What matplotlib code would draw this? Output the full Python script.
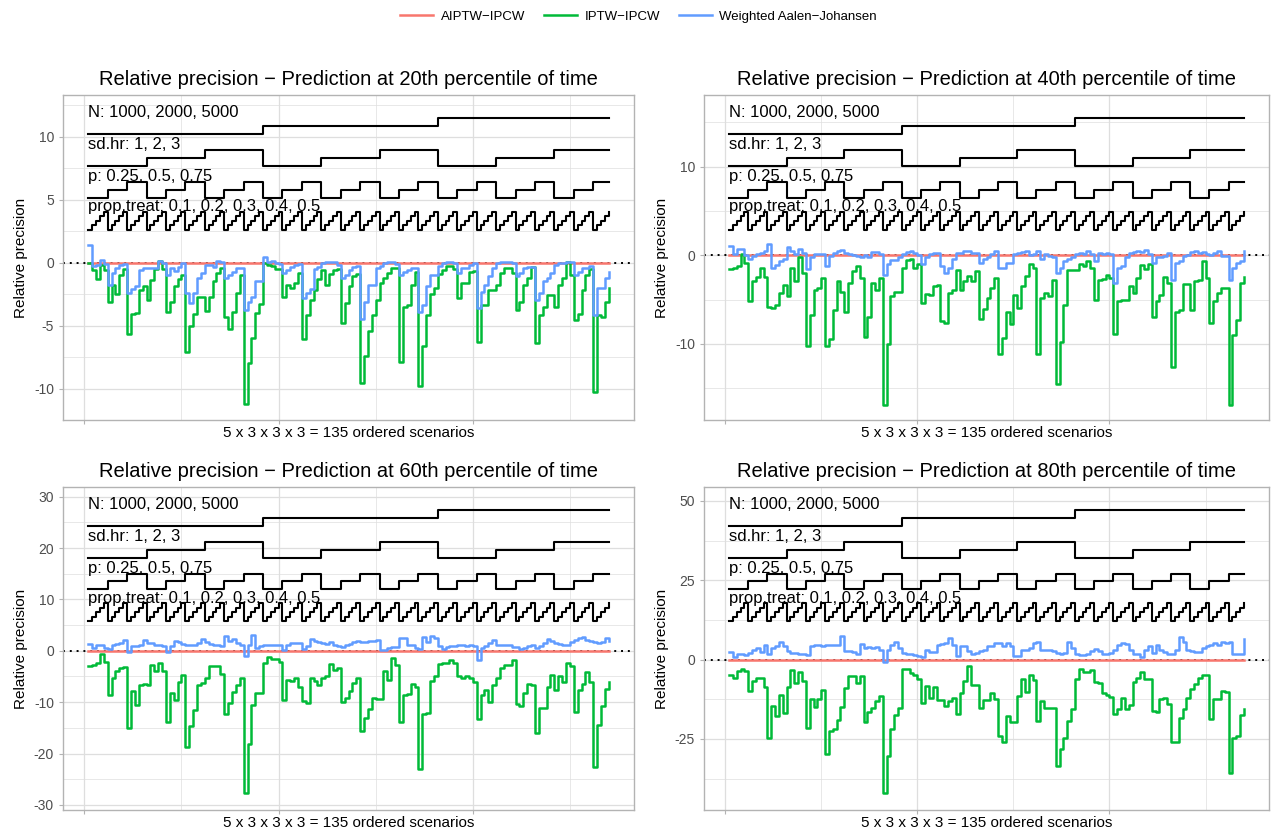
import itertools
import numpy as np
import matplotlib
matplotlib.use("Agg")
import matplotlib.pyplot as plt
from matplotlib.lines import Line2D

plt.rcParams['font.family'] = ['Liberation Sans', 'DejaVu Sans']
plt.rcParams['axes.unicode_minus'] = False

# ---------------------------------------------------------------- design
n_levels = [1000, 2000, 5000]
sdhr_levels = [1, 2, 3]
p_levels = [0.25, 0.5, 0.75]
prop_treat_levels = [0.1, 0.2, 0.3, 0.4, 0.5]

design_names = ["N", "sd.hr", "p", "prop.treat"]
design_levels = [n_levels, sdhr_levels, p_levels, prop_treat_levels]

method_names = ["AIPTW\u2212IPCW", "IPTW\u2212IPCW", "Weighted Aalen\u2212Johansen"]
method_colors = ["#F8766D", "#00BA38", "#619CFF"]

percentiles = ["20th", "40th", "60th", "80th"]

# ---------------------------------------------------------------- results
# relative precision of each method vs. AIPTW-IPCW, 135 ordered scenarios
aiptw_rel = [0.0] * 135

iptw_20 = [
    0.0, -0.6, -1.3, -0.2, -0.6,   -3.1, -1.8, -2.5, -1.0, -0.5,
    -5.7, -4.05, -4.0, -2.2, -1.9,   -3.0, -1.4, -0.5, 0.1, -0.5,
    -3.9, -3.1, -1.9, -1.3, -1.0,   -7.1, -5.0, -4.05, -2.7, -2.7,
    -3.85, -2.7, -1.5, -0.85, -0.45,   -4.3, -5.3, -3.9, -2.45, -0.95,
    -11.2, -8.0, -6.0, -4.0, -3.3,   0.0, -0.2, -0.3, -0.5, -0.5,
    -2.7, -1.8, -2.0, -1.6, -0.8,   -6.1, -4.2, -3.0, -2.2, -1.3,
    -0.6, -1.8, -0.9, -0.6, -0.5,   -4.8, -3.2, -1.9, -1.1, -0.9,
    -9.6, -7.4, -5.4, -4.2, -3.0,   -1.65, -1.25, -0.85, -0.45, -0.45,
    -7.9, -3.5, -3.4, -1.8, -0.75,   -9.8, -6.6, -4.2, -2.5, -2.0,
    -0.9, -0.6, -0.25, -0.25, -0.5,   -2.85, -1.65, -1.6, -0.75, -0.7,
    -6.3, -3.4, -3.35, -2.2, -2.15,   -1.8, -0.85, -0.45, -0.45, -0.85,
    -3.8, -3.1, -1.8, -1.25, -0.35,   -6.4, -4.2, -3.5, -2.6, -2.55,
    -3.5, -1.8, -1.25, 0.05, -1.0,   -4.6, -4.05, -2.2, -1.0, -0.5,
    -10.3, -4.2, -4.3, -3.1, -2.05,
]
waj_20 = [
    1.4, -0.25, -0.2, 0.2, -0.1,   -1.75, -0.85, -0.45, -0.2, -0.1,
    -2.45, -2.1, -1.9, -0.6, -0.45,   -0.45, -0.4, -0.4, 0.1, -0.05,
    -1.0, -0.45, -0.7, -0.35, -0.05,   -2.4, -3.2, -2.45, -1.2, -0.85,
    -0.2, -0.2, -0.35, 0.1, 0.05,   -1.25, -1.0, -0.75, -0.4, -0.4,
    -3.8, -3.1, -2.7, -1.5, -1.5,   0.45, 0.05, 0.15, -0.05, -0.15,
    -0.85, -0.6, -0.35, -0.2, -0.15,   -2.85, -2.4, -2.1, -0.5, -0.35,
    -0.05, 0.05, 0.05, 0.05, -0.2,   -1.2, -1.0, -0.6, -0.35, -0.25,
    -4.45, -3.1, -1.8, -1.75, -0.45,   -0.25, -0.05, 0.05, 0.05, -0.15,
    -0.95, -0.75, -0.6, -0.45, -0.45,   -3.9, -3.4, -1.9, -1.0, -0.95,
    -0.25, -0.05, 0.05, 0.05, -0.05,   -0.85, -0.45, -0.45, -0.2, -0.05,
    -3.6, -2.3, -1.8, -1.1, -0.45,   -0.05, 0.05, 0.05, 0.05, -0.05,
    -1.1, -0.85, -0.45, -0.35, -0.35,   -2.95, -2.45, -1.5, -1.25, -0.85,
    -0.2, 0.0, -0.05, 0.05, 0.05,   -1.0, -0.75, -0.45, -0.45, -0.3,
    -4.2, -2.05, -2.05, -1.25, -0.75,
]

iptw_40 = [
    -1.6, -1.4, -1.2, 0.1, -0.9,   -5.15, -2.95, -2.4, -1.4, -2.4,
    -5.8, -5.9, -5.6, -4.3, -3.4,   -4.65, -1.4, -2.95, -0.2, -2.0,
    -10.2, -6.75, -3.9, -3.7, -2.55,   -10.3, -9.4, -6.2, -2.95, -4.1,
    -6.45, -3.1, -1.8, -1.2, -2.55,   -9.25, -6.95, -3.1, -3.9, -2.55,
    -16.9, -10.0, -4.65, -4.15, -4.15,   -1.4, -0.55, -0.45, -1.4, -1.0,
    -5.35, -4.4, -4.45, -3.5, -3.3,   -7.45, -7.6, -4.3, -3.9, -1.7,
    -3.9, -2.95, -2.35, -2.85, -1.8,   -7.25, -6.05, -4.85, -3.7, -2.55,
    -11.1, -9.35, -6.45, -7.8, -4.45,   -5.9, -3.5, -2.35, -0.95, -1.4,
    -11.1, -4.85, -4.3, -4.65, -2.75,   -14.5, -9.8, -5.6, -1.7, -1.7,
    -1.7, -0.95, -1.2, -0.7, -1.4,   -5.05, -2.75, -2.7, -2.2, -2.55,
    -8.9, -5.2, -5.1, -5.1, -3.5,   -4.3, -2.55, -1.1, -1.6, -1.0,
    -6.95, -5.2, -4.45, -2.5, -3.1,   -12.6, -6.4, -6.2, -3.25, -3.25,
    -6.2, -2.95, -2.75, -0.65, -2.55,   -7.7, -5.2, -4.3, -3.65, -3.65,
    -16.9, -9.05, -7.3, -3.1, -2.5,
]
waj_40 = [
    1.05, 0.1, 0.7, 0.7, 0.05,   -0.45, -0.1, 0.1, 0.3, 0.5,
    1.25, -1.4, -1.05, -0.65, -0.45,   0.9, 0.5, 0.1, 0.7, 0.3,
    -1.6, -0.25, 0.1, 0.2, 0.2,   -1.2, -0.1, 0.3, 0.5, 0.55,
    0.3, 0.1, 0.05, -0.1, -0.2,   0.05, -0.25, 0.4, 0.4, 0.1,
    -2.2, -1.0, -0.55, -0.55, -0.25,   0.1, 0.4, 0.5, 0.3, 0.05,
    -0.95, -0.25, 0.1, 0.3, 0.3,   -1.2, -2.0, -1.4, -0.45, 0.3,
    0.3, 0.5, 0.5, 0.3, 0.3,   -0.85, -0.45, -0.25, 0.1, 0.5,
    -1.4, -1.4, -0.85, -0.85, 0.1,   0.3, 0.4, 0.5, 0.05, 0.1,
    0.5, -0.45, 0.1, -0.1, -0.25,   -2.0, -1.4, -0.65, -0.45, -0.25,
    0.1, 0.3, 0.1, 0.5, 0.1,   -0.65, 0.3, 0.1, 0.3, 0.1,
    -3.1, -1.4, -1.2, -0.25, 0.3,   0.4, 0.5, 0.4, 0.55, 0.1,
    -0.85, -0.25, -0.25, -0.1, 0.3,   -2.75, -0.85, -0.65, -0.1, 0.05,
    0.4, 0.5, 0.3, 0.4, 0.1,   0.05, 0.3, 0.5, -0.1, -0.1,
    -2.75, -1.4, -0.85, -0.6, 0.5,
]

iptw_60 = [
    -3.05, -2.7, -2.4, -0.65, -2.1,   -8.6, -5.2, -3.9, -3.4, -3.2,
    -15.1, -7.8, -10.6, -6.6, -6.5,   -6.6, -2.7, -4.0, -2.4, -4.0,
    -13.9, -8.2, -9.5, -6.1, -4.7,   -18.8, -14.7, -11.5, -6.6, -6.3,
    -5.2, -3.05, -3.05, -3.0, -4.5,   -12.3, -10.2, -8.05, -6.6, -5.3,
    -27.7, -18.2, -10.5, -8.25, -8.25,   -2.4, -1.2, -1.5, -1.6, -2.2,
    -9.5, -5.65, -5.85, -5.2, -7.1,   -9.8, -10.2, -5.2, -5.8, -6.6,
    -5.2, -5.0, -2.6, -3.7, -3.4,   -10.0, -9.1, -7.9, -6.3, -5.3,
    -15.7, -13.1, -11.3, -9.2, -9.35,   -9.35, -4.0, -5.65, -1.4, -2.7,
    -13.8, -8.7, -8.4, -6.5, -7.1,   -23.1, -12.3, -12.1, -5.95, -5.0,
    -2.6, -2.4, -2.4, -1.75, -2.4,   -5.0, -5.2, -5.0, -5.2, -6.0,
    -13.2, -8.6, -7.6, -10.0, -6.6,   -5.3, -3.4, -2.85, -2.7, -1.75,
    -10.4, -10.8, -8.25, -6.5, -6.6,   -16.0, -11.2, -11.2, -7.1, -4.7,
    -7.6, -5.0, -6.0, -2.4, -3.05,   -11.95, -7.6, -6.5, -4.15, -6.1,
    -22.7, -14.4, -10.65, -7.4, -6.0,
]
waj_60 = [
    1.3, 0.5, 1.05, 1.05, 0.5,   0.4, 1.05, 1.3, 1.5, 2.15,
    -0.15, 0.85, 0.85, 1.05, 2.15,   1.5, 1.5, 1.05, 1.05, 0.85,
    -0.15, 0.85, 1.95, 1.8, 1.3,   1.05, 1.05, 1.15, 1.5, 2.35,
    1.8, 1.3, 1.05, 1.05, 0.85,   2.8, 1.95, 2.35, 1.5, 1.15,
    -1.1, 1.15, 3.0, 0.5, 0.85,   1.15, 1.15, 1.15, 1.05, 1.05,
    0.2, 1.05, 1.5, 1.5, 1.5,   0.4, 0.85, 2.35, 1.95, 1.7,
    1.5, 1.3, 1.7, 1.05, 0.85,   0.65, 1.05, 1.3, 1.7, 1.95,
    1.7, 1.8, 1.95, 1.95, 2.15,   0.2, 0.2, 0.5, 0.65, 0.65,
    2.45, 2.45, 1.05, 1.05, 0.5,   0.4, 2.6, 1.8, 2.8, 2.45,
    0.85, 0.4, 0.65, 0.85, 0.85,   1.05, 1.05, 0.85, 1.15, 0.85,
    -1.75, 0.5, 0.85, 1.5, 2.15,   1.05, 1.05, 1.05, 1.05, 0.65,
    0.65, 0.4, 0.5, 0.85, 1.15,   0.5, 0.85, 1.5, 2.35, 1.95,
    1.5, 1.3, 1.05, 1.15, 1.8,   2.15, 2.45, 2.6, 2.15, 1.95,
    1.7, 1.5, 1.8, 2.45, 1.95,
]

iptw_80 = [
    -4.7, -5.7, -3.6, -3.1, -3.6,   -9.9, -6.8, -5.7, -5.7, -8.5,
    -24.8, -14.6, -17.7, -11.25, -16.7,   -8.5, -3.3, -7.5, -4.0, -6.8,
    -21.4, -12.5, -14.8, -12.5, -9.6,   -29.7, -22.4, -21.9, -19.0, -14.8,
    -8.9, -5.2, -5.2, -7.5, -5.2,   -19.8, -16.5, -15.1, -13.0, -11.5,
    -41.9, -30.4, -21.9, -17.5, -15.1,   -3.1, -3.1, -4.2, -4.7, -6.25,
    -13.75, -8.3, -12.0, -8.5, -12.7,   -12.7, -14.6, -13.0, -12.0, -17.2,
    -10.4, -6.8, -2.1, -8.1, -8.1,   -15.4, -12.7, -12.7, -10.4, -12.5,
    -24.2, -26.0, -17.7, -19.8, -19.8,   -11.5, -6.0, -10.2, -4.7, -6.5,
    -19.3, -13.0, -15.1, -15.4, -15.4,   -33.5, -28.1, -24.8, -19.3, -15.6,
    -6.0, -2.9, -4.0, -4.0, -3.3,   -7.1, -7.5, -10.4, -11.1, -11.8,
    -17.2, -15.6, -12.0, -15.6, -14.4,   -7.1, -5.7, -4.0, -6.0, -6.25,
    -16.1, -16.5, -12.5, -12.0, -14.1,   -26.0, -26.0, -18.5, -15.6, -12.0,
    -9.4, -7.8, -5.7, -4.7, -4.7,   -18.75, -12.5, -12.5, -9.9, -10.2,
    -35.6, -24.8, -24.0, -17.5, -15.6,
]
waj_80 = [
    2.3, 0.85, 1.9, 1.9, 1.55,   2.1, 3.1, 3.65, 2.3, 4.7,
    1.9, 3.65, 4.4, 5.7, 4.2,   2.6, 2.1, 2.1, 1.9, 1.9,
    1.55, 4.2, 4.5, 4.7, 4.4,   4.7, 4.7, 4.7, 4.7, 7.5,
    2.6, 2.6, 2.3, 1.9, 5.0,   3.65, 3.95, 3.65, 3.95, 2.9,
    -0.85, 2.9, 4.7, 5.7, 3.65,   2.1, 1.9, 1.9, 1.55, 1.25,
    0.85, 3.1, 2.3, 2.3, 4.7,   5.0, 5.2, 6.8, 4.7, 1.05,
    4.2, 4.2, 2.6, 1.9, 2.1,   2.6, 3.1, 4.2, 4.4, 5.2,
    5.2, 4.2, 5.2, 4.4, 1.25,   1.25, 2.9, 2.9, 3.65, 5.2,
    5.7, 3.1, 3.1, 2.9, 2.6,   2.1, 1.9, 2.1, 5.7, 3.65,
    1.9, 1.55, 1.55, 1.9, 2.6,   3.3, 2.6, 1.9, 1.9, 2.1,
    2.9, 4.7, 5.2, 5.0, 2.9,   1.9, 1.9, 0.85, 2.9, 4.4,
    2.1, 4.7, 2.9, 2.3, 1.9,   1.9, 2.9, 7.1, 5.7, 3.1,
    2.6, 2.3, 2.3, 3.65, 4.4,   4.7, 5.2, 4.7, 5.4, 5.2,
    5.7, 1.9, 1.9, 1.9, 6.5,
]

yticks_20 = [-10, -5, 0, 5, 10]
yticks_40 = [-10, 0, 10]
yticks_60 = [-30, -20, -10, 0, 10, 20, 30]
yticks_80 = [-25, 0, 25, 50]

panels = [
    ("20th", iptw_20, waj_20, yticks_20, (-12.5, 13.3)),
    ("40th", iptw_40, waj_40, yticks_40, (-18.6, 18.1)),
    ("60th", iptw_60, waj_60, yticks_60, (-31.0, 31.9)),
    ("80th", iptw_80, waj_80, yticks_80, (-47.4, 54.4)),
]

# scenario grid: N outermost, prop.treat innermost
n_scen = 135
scenario = np.arange(1, n_scen + 1)
level_index = np.array(list(itertools.product(*[range(len(l)) for l in design_levels])))

# vertical placement of the design step lines (axes fraction)
design_base = [0.880, 0.7815, 0.683, 0.585]
design_span = [0.049, 0.049, 0.049, 0.055]

# ---------------------------------------------------------------- figure
W, H = 1277, 834
fig = plt.figure(figsize=(W / 100, H / 100), dpi=100)
boxes = [(63, 95, 634, 420), (704, 95, 1269, 420),
         (63, 487, 634, 810), (704, 487, 1269, 810)]

grid_col = "#DEDEDE"
frame_col = "#B3B3B3"
xlim = (-5.5, 141.5)

for (pct, iptw, waj, yt, ylim), (l, t, r, b) in zip(panels, boxes):
    ax = fig.add_axes([l / W, 1 - b / H, (r - l) / W, (b - t) / H])
    ax.set_xlim(*xlim)
    ax.set_ylim(*ylim)
    y0, y1 = ylim

    # grid
    for gx in [25, 75, 125]:
        ax.axvline(gx, color=grid_col, lw=0.5, zorder=0)
    for gx in [0, 50, 100]:
        ax.axvline(gx, color=grid_col, lw=0.9, zorder=0)
    for gy in yt:
        ax.axhline(gy, color=grid_col, lw=0.9, zorder=0)
    step = yt[1] - yt[0]
    for gy in np.arange(yt[0] - step / 2, yt[-1] + step, step):
        if y0 < gy < y1:
            ax.axhline(gy, color=grid_col, lw=0.5, zorder=0)

    ax.axhline(0, color="black", lw=1.4, ls=(0, (1, 2.5)), zorder=1)

    # design step lines with labels
    for j, (name, levels) in enumerate(zip(design_names, design_levels)):
        idx = level_index[:, j]
        frac = design_base[j] + design_span[j] * idx / (len(levels) - 1)
        yv = y0 + frac * (y1 - y0)
        ax.step(scenario, yv, where="post", color="black", lw=1.5, zorder=2)
        top = y0 + (design_base[j] + design_span[j] + 0.002) * (y1 - y0)
        label = f"{name}: " + ", ".join(f"{v:g}" for v in levels)
        ax.text(1, top, label, ha="left", va="baseline", fontsize=12, zorder=3)

    # method curves
    for vals, col in zip([aiptw_rel, iptw, waj], method_colors):
        ax.step(scenario, vals, where="post", color=col, lw=1.8, zorder=4)

    ax.set_yticks(yt)
    ax.set_yticklabels([str(v) for v in yt])
    ax.set_xticks([0, 50, 100])
    ax.set_xticklabels([])
    ax.tick_params(axis="both", colors=frame_col, labelcolor="#4D4D4D",
                   labelsize=10, length=3, width=0.8)
    ax.tick_params(axis="x", pad=0)
    for s in ax.spines.values():
        s.set_color(frame_col)
        s.set_linewidth(1.0)

    ax.set_title(f"Relative precision \u2212 Prediction at {pct} percentile of time",
                 fontsize=14.5, pad=7)
    ax.set_xlabel("5 x 3 x 3 x 3 = 135 ordered scenarios", fontsize=11, labelpad=1)
    ax.set_ylabel("Relative precision", fontsize=11, labelpad=4)

handles = [Line2D([], [], color=c, lw=1.8) for c in method_colors]
fig.legend(handles, method_names, loc="center", bbox_to_anchor=(0.5, 1 - 17 / H),
           ncol=3, frameon=False, fontsize=9.5, handlelength=2.5, columnspacing=1.4,
           handletextpad=0.6)

fig.savefig("out.png", dpi=100)
